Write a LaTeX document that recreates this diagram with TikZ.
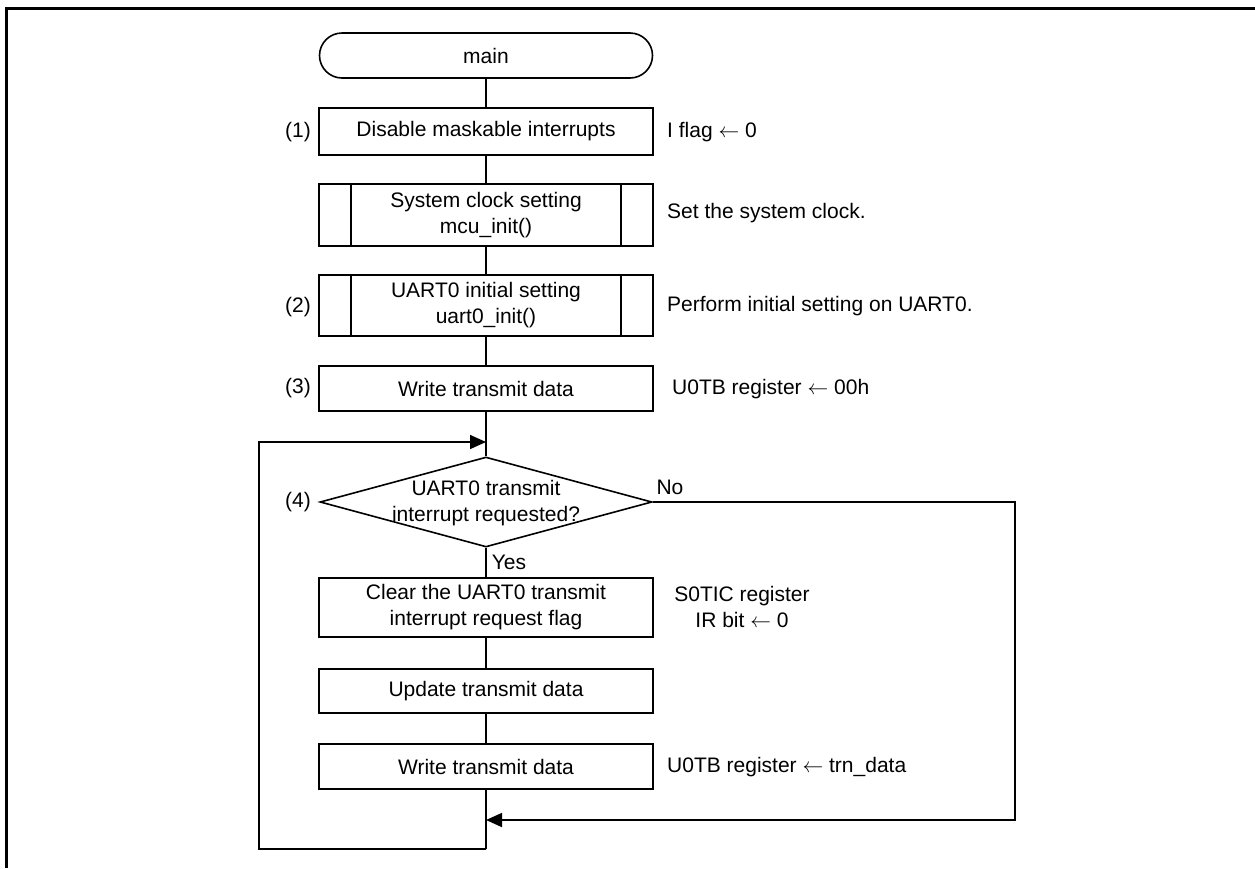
\documentclass[tikz,border=0pt]{standalone}
\usepackage{fontspec}
\setmainfont{Liberation Sans}
\usetikzlibrary{shapes.geometric,arrows.meta}
\begin{document}
\begin{tikzpicture}[x=1pt,y=-1pt,
  every node/.style={font=\fontsize{21}{26}\selectfont},
  ln/.style={line width=1.6pt},
  proc/.style={draw,ln,minimum width=334pt,inner sep=0pt,align=center},
  term/.style={draw,ln,minimum width=333pt,minimum height=45pt,rounded corners=22.5pt,inner sep=0pt},
  sub/.style={proc,path picture={
     \draw[ln] ([xshift=32pt]path picture bounding box.north west) -- ([xshift=32pt]path picture bounding box.south west);
     \draw[ln] ([xshift=-32pt]path picture bounding box.north east) -- ([xshift=-32pt]path picture bounding box.south east);}},
  dec/.style={draw,ln,diamond,minimum width=332pt,minimum height=90pt,inner sep=0pt,aspect=3.69},
  tag/.style={anchor=east,inner sep=0pt},
  note/.style={anchor=west,inner sep=0pt,align=left},
  arr/.style={ln,-{Triangle[length=16pt,width=14pt]}}]
\useasboundingbox (0,0) rectangle (1255,868);
\draw[line width=3pt] (1255,8) -- (6,8) -- (6,868);

\node[term] (main) at (486,55.5) {main};
\node[proc,minimum height=47pt] (b1) at (486,131.5) {Disable maskable interrupts};
\node[sub,minimum height=62pt] (b2) at (486,215) {System clock setting\\mcu\_init()};
\node[sub,minimum height=61pt] (b3) at (486,305.5) {UART0 initial setting\\uart0\_init()};
\node[proc,minimum height=45pt] (b4) at (486,388.5) {Write transmit data};
\node[dec] (d) at (486,502) {};
\node[align=center,inner sep=0pt] (dt) at (486,503) {UART0 transmit\\interrupt requested?};
\node[proc,minimum height=59pt] (b5) at (486,607.5) {Clear the UART0 transmit\\interrupt request flag};
\node[proc,minimum height=44pt] (b6) at (486,691) {Update transmit data};
\node[proc,minimum height=45pt] (b7) at (486,766.5) {Write transmit data};

\node[tag] (t1) at (311,132) {(1)};
\node[tag] (t2) at (311,307) {(2)};
\node[tag] (t3) at (311,388) {(3)};
\node[tag] (t4) at (311,502) {(4)};

\node[note] (n1) at (667,132) {I flag $\leftarrow$ 0};
\node[note] (n2) at (667,213) {Set the system clock.};
\node[note] (n3) at (667,306) {Perform initial setting on UART0.};
\node[note] (n4) at (672,389) {U0TB register $\leftarrow$ 00h};
\node[align=center,inner sep=0pt] (n5) at (742,607) {S0TIC register\\IR bit $\leftarrow$ 0};
\node[note] (n7) at (667,767) {U0TB register $\leftarrow$ trn\_data};

\node[inner sep=0pt] (no) at (670,487) {No};
\node[inner sep=0pt] (yes) at (509,562) {Yes};

\coordinate (join) at (486,442);
\coordinate (merge) at (486,820);
\coordinate (bot) at (486,849);
\coordinate (ll) at (259,849);
\coordinate (lu) at (259,442);
\coordinate (ru) at (1015,502);
\coordinate (rd) at (1015,820);

\draw[ln] (main) -- (b1);
\draw[ln] (b1) -- (b2);
\draw[ln] (b2) -- (b3);
\draw[ln] (b3) -- (b4);
\draw[ln] (b4) -- (d.north);
\draw[ln] (d.south) -- (b5);
\draw[ln] (b5) -- (b6);
\draw[ln] (b6) -- (b7);
\draw[ln] (b7) -- (bot);
\draw[arr] (bot) -- (ll) -- (lu) -- (join);
\draw[arr] (d.east) -- (ru) -- (rd) -- (merge);
\end{tikzpicture}
\end{document}
